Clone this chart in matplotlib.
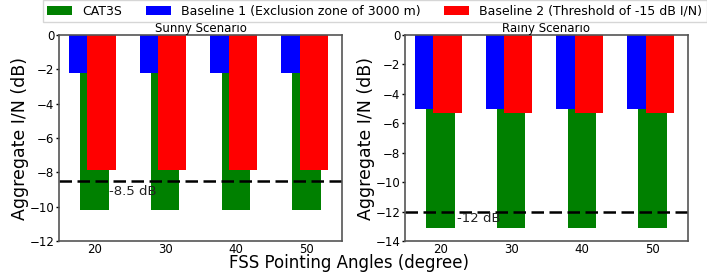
import matplotlib
matplotlib.use('Agg')
import matplotlib.pyplot as plt
import numpy as np

angles = [20, 30, 40, 50]

sunny_cat3s = [-10.2, -10.2, -10.2, -10.2]
sunny_base1 = [-2.2, -2.2, -2.2, -2.2]
sunny_base2 = [-7.85, -7.85, -7.85, -7.85]
sunny_limit = -8.5

rainy_cat3s = [-13.1, -13.1, -13.1, -13.1]
rainy_base1 = [-5.0, -5.0, -5.0, -5.0]
rainy_base2 = [-5.3, -5.3, -5.3, -5.3]
rainy_limit = -12

labels = ['CAT3S', 'Baseline 1 (Exclusion zone of 3000 m)',
          'Baseline 2 (Threshold of -15 dB I/N)']


def draw_panel(ax, cat3s, base1, base2, limit, title, ymin, yticks, text_pos):
    x = np.array(angles, dtype=float)
    ax.bar(x, cat3s, width=4, color='green', label=labels[0])
    ax.bar(x - 3.6, base1, width=2.6, align='edge', color='blue', label=labels[1])
    ax.bar(x - 1.0, base2, width=4, align='edge', color='red', label=labels[2])
    ax.axhline(limit, color='black', linestyle='--', linewidth=1.8, dashes=(5, 2.2))
    ax.text(text_pos[0], text_pos[1], f'{limit:g} dB', fontsize=9.5,
            ha='left', va='center', color='#222222')
    ax.set_xlim(15, 55)
    ax.set_ylim(ymin, 0)
    ax.set_xticks(angles)
    ax.set_yticks(yticks)
    ax.set_title(title, fontsize=8.5, pad=1)
    ax.set_ylabel('Aggregate I/N (dB)', fontsize=12.5, labelpad=0)
    ax.tick_params(axis='x', length=0, labelsize=8.5, pad=1.5)
    ax.tick_params(axis='y', length=2, width=1, labelsize=8.5, pad=1.5)
    for sp in ax.spines.values():
        sp.set_color('#555555')
        sp.set_linewidth(1.2)


fig = plt.figure(figsize=(7.07, 2.76), dpi=100)
ax1 = fig.add_axes([59 / 707, 35 / 276, 283 / 707, 206 / 276])
ax2 = fig.add_axes([405 / 707, 35 / 276, 283 / 707, 206 / 276])

draw_panel(ax1, sunny_cat3s, sunny_base1, sunny_base2, sunny_limit,
           'Sunny Scenario', -12, [0, -2, -4, -6, -8, -10, -12], (22.1, -9.1))
draw_panel(ax2, rainy_cat3s, rainy_base1, rainy_base2, rainy_limit,
           'Rainy Scenario', -14, [0, -2, -4, -6, -8, -10, -12, -14], (22.3, -12.45))

handles, lbls = ax1.get_legend_handles_labels()
fig.legend(handles, lbls, loc='lower left', bbox_to_anchor=(43 / 707, 1 - 22 / 276),
           borderaxespad=0, ncol=3, fontsize=9, frameon=True, borderpad=0.35,
           handlelength=2.0, handletextpad=0.8, columnspacing=1.9,
           fancybox=False, edgecolor='#cccccc')

fig.text(349 / 707, 1 - 263 / 276, 'FSS Pointing Angles (degree)',
         fontsize=12, ha='center', va='center')

fig.savefig('out.png', dpi=100)
